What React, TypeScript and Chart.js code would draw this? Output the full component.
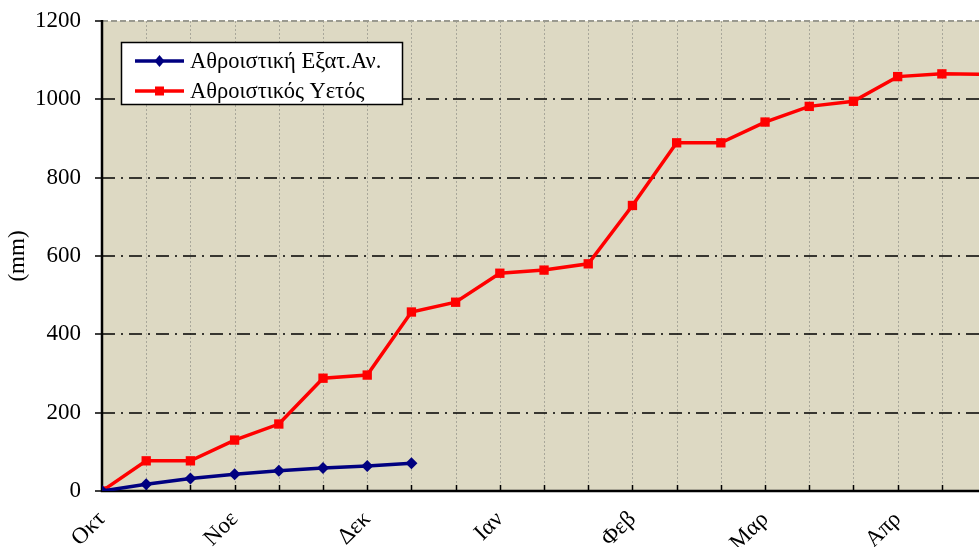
import React, { useEffect, useRef } from 'react';
import { Chart, registerables } from 'chart.js';
Chart.register(...registerables);

const monthLabels = ['Οκτ', 'Νοε', 'Δεκ', 'Ιαν', 'Φεβ', 'Μαρ', 'Απρ'];
const evapLabel = 'Αθροιστική Εξατ.Αν.';
const rainLabel = 'Αθροιστικός Υετός';
// cumulative values per 10-day period, starting 1 Oct
const evapValues = [0, 17, 32, 43, 52, 59, 64, 71];
const rainValues = [0, 77, 77, 130, 171, 288, 296, 457, 482, 556, 564, 580, 729, 889, 889, 942, 982, 995, 1058, 1065, 1064];
const yTicks = [0, 200, 400, 600, 800, 1000, 1200];
const periodsPerMonth = 3;
const xMax = 19.84;
const yTitle = '(mm)';

const FONT = '"Liberation Serif", "Times New Roman", serif';
const BG = '#DDD9C3';
const RED = '#FF0000';
const NAVY = '#000080';

const framePlugin = {
  id: 'frame',
  beforeDraw(chart: any) {
    const { ctx, chartArea: a } = chart;
    ctx.save();
    ctx.fillStyle = BG;
    ctx.fillRect(a.left, a.top, a.right - a.left, a.bottom - a.top);
    ctx.restore();
  },
  beforeDatasetsDraw(chart: any) {
    const { ctx, chartArea: a, scales } = chart;
    const xs = scales.x;
    const ys = scales.y;
    ctx.save();
    // vertical dotted grid
    ctx.strokeStyle = '#A8A79A';
    ctx.lineWidth = 1;
    ctx.setLineDash([2, 2]);
    for (let i = 1; i <= Math.floor(xMax); i++) {
      const x = Math.round(xs.getPixelForValue(i)) + 0.5;
      ctx.beginPath();
      ctx.moveTo(x, a.top);
      ctx.lineTo(x, a.bottom);
      ctx.stroke();
    }
    // horizontal dash-dot grid
    yTicks.forEach((v) => {
      if (v === 0) return;
      const y = Math.round(ys.getPixelForValue(v));
      ctx.beginPath();
      if (v === yTicks[yTicks.length - 1]) {
        ctx.strokeStyle = '#9A9A90';
        ctx.lineWidth = 2;
        ctx.setLineDash([6, 3]);
      } else {
        ctx.strokeStyle = '#000000';
        ctx.lineWidth = 1.6;
        ctx.setLineDash([13, 6, 2, 6]);
      }
      ctx.moveTo(a.left, y);
      ctx.lineTo(a.right, y);
      ctx.stroke();
    });
    ctx.setLineDash([]);
    ctx.strokeStyle = '#000000';
    // y ticks
    ctx.lineWidth = 1.5;
    yTicks.forEach((v) => {
      const y = Math.round(ys.getPixelForValue(v));
      ctx.beginPath();
      ctx.moveTo(a.left - 7, y);
      ctx.lineTo(a.left, y);
      ctx.stroke();
    });
    // x ticks (inside)
    for (let i = 1; i <= Math.floor(xMax); i++) {
      const x = Math.round(xs.getPixelForValue(i)) + 0.5;
      ctx.beginPath();
      ctx.moveTo(x, a.bottom);
      ctx.lineTo(x, a.bottom - 6);
      ctx.stroke();
    }
    // axes
    ctx.lineWidth = 2.5;
    ctx.beginPath();
    ctx.moveTo(a.left, a.top - 1);
    ctx.lineTo(a.left, a.bottom);
    ctx.lineTo(a.right, a.bottom);
    ctx.stroke();
    ctx.restore();
  },
  afterDraw(chart: any) {
    const { ctx } = chart;
    const bx = 121, by = 42, bw = 281, bh = 62;
    ctx.save();
    ctx.fillStyle = '#FFFFFF';
    ctx.fillRect(bx, by, bw, bh);
    ctx.strokeStyle = '#000000';
    ctx.lineWidth = 1.5;
    ctx.strokeRect(bx + 0.5, by + 0.5, bw, bh);
    chart.data.datasets.forEach((d: any, i: number) => {
      const y = by + 19 + i * 30;
      ctx.strokeStyle = d.borderColor;
      ctx.lineWidth = 3.5;
      ctx.beginPath();
      ctx.moveTo(135, y);
      ctx.lineTo(184, y);
      ctx.stroke();
      ctx.fillStyle = d.borderColor;
      const cx = 159.5;
      if (d.pointStyle === 'rect') {
        ctx.fillRect(cx - 4.5, y - 4.5, 9, 9);
      } else {
        ctx.beginPath();
        ctx.moveTo(cx, y - 6);
        ctx.lineTo(cx + 5, y);
        ctx.lineTo(cx, y + 6);
        ctx.lineTo(cx - 5, y);
        ctx.closePath();
        ctx.fill();
      }
      ctx.fillStyle = '#000000';
      ctx.font = `22.5px ${FONT}`;
      ctx.textBaseline = 'middle';
      ctx.textAlign = 'left';
      ctx.fillText(d.label, 190, y + 1);
    });
    ctx.restore();
  },
};

export default function App() {
  const ref = useRef<HTMLCanvasElement | null>(null);
  useEffect(() => {
    if (!ref.current) return;
    const chart = new Chart(ref.current, {
      type: 'line',
      data: {
        datasets: [
          {
            label: evapLabel,
            data: evapValues.map((v, i) => ({ x: i, y: v })),
            borderColor: NAVY,
            backgroundColor: NAVY,
            borderWidth: 3.5,
            pointStyle: 'rectRot',
            pointRadius: 6,
            pointBorderWidth: 0,
            tension: 0,
          },
          {
            label: rainLabel,
            data: rainValues.map((v, i) => ({ x: i, y: v })),
            borderColor: RED,
            backgroundColor: RED,
            borderWidth: 3.5,
            pointStyle: 'rect',
            pointRadius: 6.6,
            pointBorderWidth: 0,
            tension: 0,
          },
        ],
      },
      options: {
        animation: false,
        responsive: true,
        maintainAspectRatio: false,
        layout: { autoPadding: false, padding: { top: 21, right: 0, left: 0, bottom: 0 } },
        plugins: { legend: { display: false }, tooltip: { enabled: false } },
        scales: {
          x: {
            type: 'linear',
            min: 0,
            max: xMax,
            grid: { display: false },
            border: { display: false },
            afterFit: (s: any) => { s.height = 56; s.paddingRight = 0; },
            ticks: {
              stepSize: 1,
              includeBounds: false,
              autoSkip: false,
              maxRotation: 45,
              minRotation: 45,
              padding: 7,
              color: '#000000',
              font: { family: FONT, size: 23 },
              callback: (v: any) => {
                const n = Number(v);
                if (Math.abs(n - Math.round(n)) > 1e-6) return '';
                return n % periodsPerMonth === 0 ? monthLabels[n / periodsPerMonth] ?? '' : '';
              },
            },
          },
          y: {
            min: 0,
            max: 1200,
            grid: { display: false },
            border: { display: false },
            afterFit: (s: any) => { s.width = 102; s.paddingTop = 0; },
            afterBuildTicks: (s: any) => { s.ticks = yTicks.map((v) => ({ value: v })); },
            ticks: {
              padding: 13,
              color: '#000000',
              font: { family: FONT, size: 23 },
              callback: (v: any) => String(v),
            },
            title: {
              display: true,
              text: yTitle,
              color: '#000000',
              font: { family: FONT, size: 23, weight: 'normal' },
              padding: { top: 4, bottom: 0 },
            },
          },
        },
      },
      plugins: [framePlugin],
    });
    return () => chart.destroy();
  }, []);
  return (
    <div style={{ position: 'fixed', left: 0, top: 0, width: 979, height: 547, background: '#FFFFFF' }}>
      <canvas ref={ref} />
    </div>
  );
}
